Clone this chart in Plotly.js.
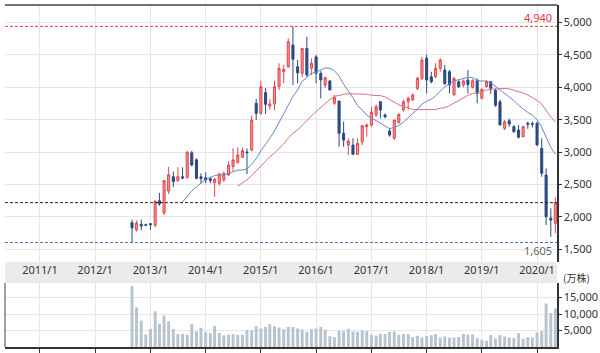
<!DOCTYPE html>
<html><head><meta charset="utf-8">
<script src="https://cdn.plot.ly/plotly-3.0.1.min.js"></script>
<style>html,body{margin:0;padding:0;background:#fff;}#chart{width:600px;height:353px;}</style>
</head><body><div id="chart"></div>
<script>
const months = [
"2012-09","2012-10","2012-11","2012-12",
"2013-01","2013-02","2013-03","2013-04","2013-05","2013-06","2013-07","2013-08","2013-09","2013-10","2013-11","2013-12",
"2014-01","2014-02","2014-03","2014-04","2014-05","2014-06","2014-07","2014-08","2014-09","2014-10","2014-11","2014-12",
"2015-01","2015-02","2015-03","2015-04","2015-05","2015-06","2015-07","2015-08","2015-09","2015-10","2015-11","2015-12",
"2016-01","2016-02","2016-03","2016-04","2016-05","2016-06","2016-07","2016-08","2016-09","2016-10","2016-11","2016-12",
"2017-01","2017-02","2017-03","2017-04","2017-05","2017-06","2017-07","2017-08","2017-09","2017-10","2017-11","2017-12",
"2018-01","2018-02","2018-03","2018-04","2018-05","2018-06","2018-07","2018-08","2018-09","2018-10","2018-11","2018-12",
"2019-01","2019-02","2019-03","2019-04","2019-05","2019-06","2019-07","2019-08","2019-09","2019-10","2019-11","2019-12",
"2020-01","2020-02","2020-03","2020-04","2020-05"];

const openP = [1910,1800,1885,1880,
1895,1870,2250,2060,2400,2620,2560,2620,2605,2990,2880,2620,
2605,2590,2530,2518,2569,2647,2775,2836,2919,3000,3032,3753,
3598,3917,3711,3742,4010,4240,4318,4652,4318,4216,4601,4293,
4470,4216,4035,4097,3753,3788,3290,3109,3109,2966,3160,3392,
3418,3572,3778,3572,3325,3213,3459,3649,3777,3803,3983,4137,
4450,4163,4163,4292,4266,4240,3880,4086,4035,4112,4000,4102,
3830,4009,4086,3954,3777,3367,3485,3392,3340,3237,3444,3440,
3444,3058,2646,1980,1900];
const highP = [1955,1945,1960,1895,
1905,2260,2370,2560,2770,2700,2765,2765,3020,3020,2904,2673,
2690,2620,2600,2680,2700,2852,3058,3074,3074,3058,3561,3820,
4102,3990,3815,4102,4370,4344,4756,4940,4421,4601,4780,4447,
4500,4250,4163,4113,3881,3788,3469,3213,3213,3213,3418,3444,
3700,3737,3778,3598,3367,3495,3600,3803,3855,3906,4163,4472,
4505,4240,4370,4446,4343,4266,4163,4110,4120,4266,4130,4140,
3984,4112,4100,3980,3810,3495,3520,3418,3418,3408,3470,3470,
3470,3213,2750,2133,2300];
const lowP = [1605,1775,1790,1860,
1800,1840,2170,2030,2350,2460,2540,2580,2595,2780,2580,2518,
2520,2520,2310,2481,2540,2631,2698,2830,2910,2660,3010,3495,
3572,3588,3658,3649,3958,4061,4300,4035,4061,4160,4160,4190,
4061,3830,3984,3958,3727,3083,3083,2955,2966,2955,3109,3237,
3392,3546,3521,3521,3237,3190,3440,3623,3649,3788,3957,4112,
3906,4060,4137,4240,4035,3906,3880,3990,4000,3906,3980,3753,
3815,4000,3900,3700,3418,3341,3390,3300,3213,3228,3360,3380,
3094,2620,1875,1694,1750];
const closeP = [1830,1905,1860,1870,
1880,2240,2200,2560,2650,2545,2620,2600,2997,2800,2595,2590,
2570,2560,2580,2662,2672,2801,2878,2955,3022,2990,3495,3598,
4010,3737,3742,4010,4293,4277,4703,4432,4225,4601,4190,4370,
4216,4113,4148,3958,3839,3290,3186,3171,2966,3136,3407,3418,
3614,3700,3649,3546,3263,3495,3582,3777,3829,3880,4137,4420,
4112,4086,4292,4420,4060,4035,4137,4009,4096,4045,4102,3907,
3969,4086,3984,3722,3418,3469,3433,3315,3228,3392,3430,3430,
3110,2673,2003,1950,2220];
const volume = [18500,12000,8000,3800,
5500,10800,7000,9500,7800,5500,4000,4000,3700,7000,4700,5800,
4500,4200,6400,4200,3500,3700,3900,3700,3700,5200,5100,6300,
5600,6100,6900,6300,5900,5400,6100,6100,5600,5300,4600,5400,
5600,6100,5200,3300,3000,4900,4800,5500,4700,4600,5000,4800,
3700,3500,4000,4000,4600,4700,3700,3900,3900,3000,3400,2900,
3300,3600,3900,2900,3200,2800,2900,3000,4000,3800,3800,2700,
2200,1900,3600,2600,3600,3200,2800,2700,4200,2500,3000,2900,
4400,4800,13200,10300,11700];

const yearTicks = ["2011-01-01","2012-01-01","2013-01-01","2014-01-01","2015-01-01","2016-01-01","2017-01-01","2018-01-01","2019-01-01","2020-01-01"];
const yearLabels = ["2011/1","2012/1","2013/1","2014/1","2015/1","2016/1","2017/1","2018/1","2019/1","2020/1"];
const priceTicks = [1500,2000,2500,3000,3500,4000,4500,5000];
const volTicks = [5000,10000,15000];
const maShort = 12, maLong = 24;

function movingAverage(arr, n){
  return arr.map((v,i)=>{ if(i<n-1) return null; let s=0; for(let k=i-n+1;k<=i;k++) s+=arr[k]; return s/n; });
}
const maxHigh = Math.max(...highP);
const minLow = Math.min(...lowP);
const lastClose = closeP[closeP.length-1];

const FONT = '"Noto Sans", "Noto Sans CJK JP", sans-serif';
const traces = [
  {type:'scatter', mode:'lines', x:months, y:movingAverage(closeP,maLong), xaxis:'x', yaxis:'y',
   line:{color:'#d8707c', width:1}, hoverinfo:'skip'},
  {type:'scatter', mode:'lines', x:months, y:movingAverage(closeP,maShort), xaxis:'x', yaxis:'y',
   line:{color:'#6c85c6', width:1}, hoverinfo:'skip'},
  {type:'candlestick', x:months, open:openP, high:highP, low:lowP, close:closeP, xaxis:'x', yaxis:'y',
   increasing:{line:{color:'#e0474c', width:1}, fillcolor:'#f09598'},
   decreasing:{line:{color:'#2c4b82', width:1}, fillcolor:'#2c4b82'},
   whiskerwidth:0, hoverinfo:'skip'},
  {type:'bar', x:months, y:volume, xaxis:'x2', yaxis:'y2', marker:{color:'#b7c4ce', line:{width:0}}, hoverinfo:'skip'}
];

const volTop = (347-283)/342, mainBottom = (347-262)/342;
const layout = {
  width:600, height:353,
  margin:{l:5, r:43, t:5, b:6},
  paper_bgcolor:'#ffffff', plot_bgcolor:'#ffffff',
  showlegend:false, bargap:0.3,
  font:{family:FONT, size:11, color:'#333'},
  xaxis:{type:'date', range:['2010-05-15','2020-05-12'], anchor:'y', domain:[0,1],
    tickvals:yearTicks, ticktext:yearLabels, ticks:'', showgrid:true, gridcolor:'#e6e6e6',
    showline:false, zeroline:false, rangeslider:{visible:false}, tickfont:{size:11, color:'#333'}},
  xaxis2:{type:'date', matches:'x', anchor:'y2', domain:[0,1], tickvals:yearTicks, showticklabels:false,
    ticks:'outside', ticklen:4, tickcolor:'#333', showline:true, linecolor:'#333', linewidth:1.5,
    showgrid:true, gridcolor:'#e6e6e6', zeroline:false},
  yaxis:{domain:[mainBottom,1], range:[1304,5270], side:'right', tickvals:priceTicks, tickformat:',',
    ticks:'outside', ticklen:3, tickcolor:'#333', showline:true, linecolor:'#333', linewidth:1.5,
    gridcolor:'#e6e6e6', zeroline:false, tickfont:{size:11, color:'#333'}},
  yaxis2:{domain:[0,volTop], range:[0,19400], side:'right', tickvals:volTicks, tickformat:',',
    ticks:'outside', ticklen:3, tickcolor:'#333', showline:true, linecolor:'#333', linewidth:1.5,
    gridcolor:'#e6e6e6', zeroline:false, tickfont:{size:11, color:'#333'}},
  shapes:[
    {type:'rect', xref:'paper', yref:'paper', x0:0, x1:1, y0:volTop, y1:mainBottom, fillcolor:'#ebebeb', line:{width:0}, layer:'below'},
    {type:'line', xref:'paper', yref:'paper', x0:0, x1:1, y0:1, y1:1, line:{color:'#444', width:1.5}},
    {type:'line', xref:'paper', yref:'paper', x0:0, x1:0, y0:0, y1:volTop, line:{color:'#444', width:1}},
    {type:'line', xref:'paper', yref:'y', x0:0, x1:1, y0:maxHigh, y1:maxHigh, line:{color:'#e0393e', width:1, dash:'3px,2px'}},
    {type:'line', xref:'paper', yref:'y', x0:0, x1:1, y0:minLow, y1:minLow, line:{color:'#4f73a8', width:1, dash:'3px,2px'}},
    {type:'line', xref:'paper', yref:'y', x0:0, x1:1, y0:lastClose, y1:lastClose, line:{color:'#222', width:1, dash:'3px,2px'}}
  ],
  annotations:[
    {xref:'paper', yref:'y', x:1, y:maxHigh, xanchor:'right', yanchor:'bottom', xshift:-3, yshift:-1,
     text:maxHigh.toLocaleString('en-US'), showarrow:false, font:{size:11, color:'#e0393e'}},
    {xref:'paper', yref:'y', x:1, y:minLow, xanchor:'right', yanchor:'top', xshift:-3, yshift:1,
     text:minLow.toLocaleString('en-US'), showarrow:false, font:{size:11, color:'#666'}},
    {xref:'paper', yref:'paper', x:1, y:(347-277)/342, xanchor:'left', yanchor:'middle', xshift:4,
     text:'(万株)', showarrow:false, font:{size:10, color:'#333', family:'"Noto Sans CJK JP", sans-serif'}}
  ]
};
Plotly.newPlot('chart', traces, layout, {displayModeBar:false, staticPlot:true});
</script></body></html>
